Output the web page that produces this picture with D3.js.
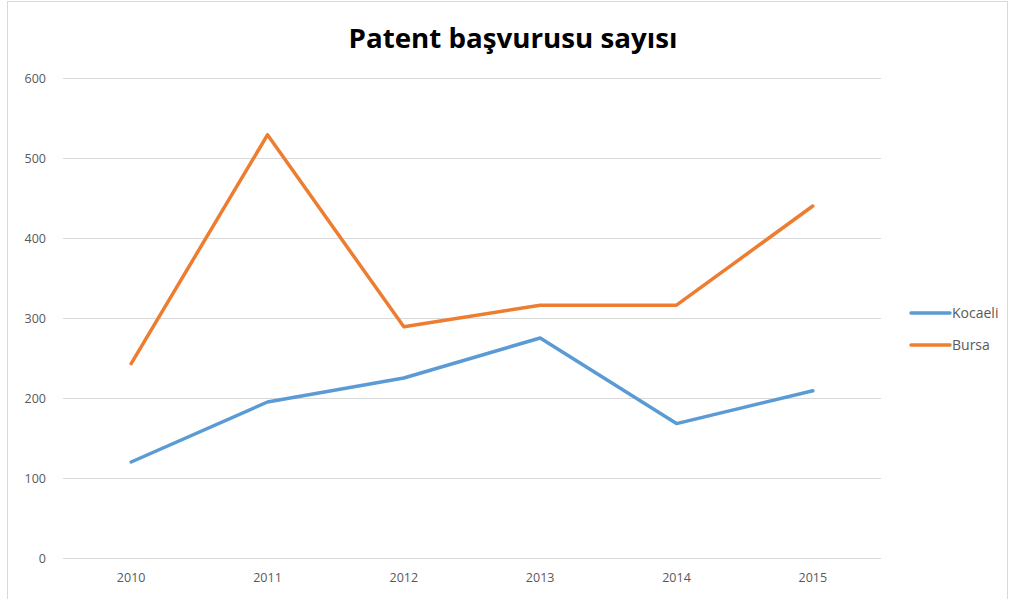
<!DOCTYPE html>
<html><head><meta charset="utf-8">
<script src="https://cdn.jsdelivr.net/npm/d3@7"></script>
<style>body{margin:0;background:#fff}svg{display:block}</style>
</head><body>
<svg id="c" width="1009" height="599"></svg>
<script>
const title = "Patent başvurusu sayısı";
const years = ["2010","2011","2012","2013","2014","2015"];
const kocaeli = [120, 195, 225, 275, 168, 209];
const bursa = [243, 529, 289, 316, 316, 440];
const yTicks = [0,100,200,300,400,500,600];
const seriesNames = ["Kocaeli","Bursa"];
const colors = ["#5B9BD5","#ED7D31"];

const svg = d3.select("#c");
const font = "Open Sans, Liberation Sans, sans-serif";
svg.append("rect").attr("x",7.5).attr("y",1.5).attr("width",1000).attr("height",600)
  .attr("fill","#fff").attr("stroke","#D9D9D9");

const x = d3.scaleBand().domain(years).range([63,881]);
const y = d3.scaleLinear().domain([0,600]).range([558,78]);

svg.append("text").attr("x",513).attr("y",48).attr("text-anchor","middle")
  .attr("font-family","Open Sans, sans-serif").attr("font-weight","bold").attr("font-size",26)
  .attr("textLength",329).attr("lengthAdjust","spacingAndGlyphs")
  .attr("fill","#000").text(title);

const gy = svg.append("g").attr("transform","translate(63,0)")
  .call(d3.axisLeft(y).tickValues(yTicks).tickSize(-818).tickPadding(17).tickFormat(d3.format("d")));
gy.select(".domain").remove();
gy.selectAll("line").attr("stroke","#D9D9D9").attr("stroke-width",1);
gy.selectAll("text").attr("font-family",font).attr("font-size",12.5).attr("fill","#595959");

const gx = svg.append("g").attr("transform","translate(0,558)")
  .call(d3.axisBottom(x).tickSize(0).tickPadding(15));
gx.select(".domain").remove();
gx.selectAll("text").attr("font-family",font).attr("font-size",12.5).attr("fill","#595959");

const line = d3.line().x((d,i)=>x(years[i])+x.bandwidth()/2).y(d=>y(d));
[kocaeli,bursa].forEach((s,k)=>{
  svg.append("path").datum(s).attr("d",line).attr("fill","none")
    .attr("stroke",colors[k]).attr("stroke-width",3.5)
    .attr("stroke-linecap","round").attr("stroke-linejoin","round");
});

seriesNames.forEach((n,k)=>{
  const ly = 313 + k*32;
  svg.append("line").attr("x1",911).attr("x2",950).attr("y1",ly).attr("y2",ly)
    .attr("stroke",colors[k]).attr("stroke-width",3.5).attr("stroke-linecap","round");
  svg.append("text").attr("x",952).attr("y",ly+5).attr("font-family",font)
    .attr("font-size",14).attr("fill","#595959").text(n);
});
</script>
</body></html>
